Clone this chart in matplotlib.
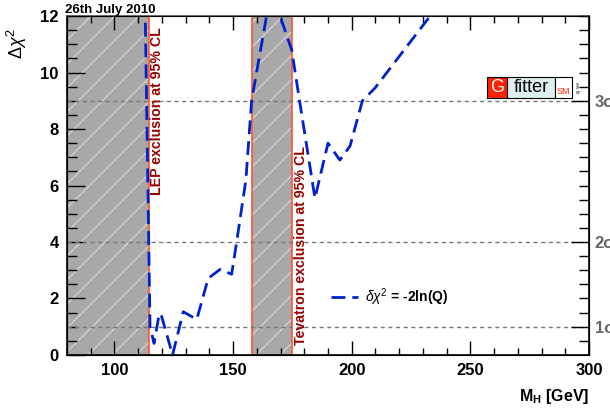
import matplotlib.pyplot as plt
import matplotlib.patches as mpatches
import numpy as np

plt.rcParams['font.family'] = ['Liberation Sans', 'DejaVu Sans']
plt.rcParams['mathtext.fontset'] = 'custom'
plt.rcParams['mathtext.rm'] = 'Liberation Sans'
plt.rcParams['mathtext.it'] = 'Liberation Sans:italic'
plt.rcParams['mathtext.bf'] = 'Liberation Sans:bold'

# Delta chi^2 scan vs Higgs mass
mh = [112.9, 115.0, 116.7, 118.9, 119.9, 124.5, 129.0, 134.7, 139.5, 144.5,
      149.4, 151.5, 155.4, 157.8, 163.9, 166.0, 169.8, 174.7, 178.2, 184.5,
      190.0, 195.0, 199.3, 204.5, 209.8, 233.5]
dchi2 = [12.5, 1.0, 0.41, 1.47, 1.36, 0.0, 1.53, 1.26, 2.71, 3.03,
         2.86, 4.0, 6.2, 9.0, 11.9, 13.0, 12.0, 10.8, 8.9, 5.55,
         7.5, 6.9, 7.4, 9.0, 9.45, 12.05]

lep_band = (80, 114.4)
tev_band = (158, 175)
sigma_levels = [1, 4, 9]
sigma_labels = ['1σ', '2σ', '3σ']

BAND_GRAY = '#A8A8A8'
EDGE_RED = '#FF5533'
TEXT_RED = '#990000'
CURVE_BLUE = '#0022CC'

fig = plt.figure(figsize=(6.1, 4.15), dpi=100)
ax = fig.add_axes([0.1098, 0.1446, 0.8558, 0.8168])
ax.set_xlim(80, 300)
ax.set_ylim(0, 12)

W_PX, H_PX = 522.0, 339.0
for lo, hi in [lep_band, tev_band]:
    band = ax.axvspan(lo, hi, facecolor=BAND_GRAY, edgecolor='none', zorder=1)
    # sparse white diagonal hatch, clipped to the band
    for c in np.arange(-H_PX, W_PX, 24):
        ln, = ax.plot([c / W_PX, (c + H_PX) / W_PX], [0, 1], transform=ax.transAxes,
                      color='white', lw=0.7, alpha=0.65, zorder=1.5)
        ln.set_clip_path(band)
    if lo > 80:
        ax.axvline(lo, color=EDGE_RED, lw=1.2, zorder=2)
    ax.axvline(hi, color=EDGE_RED, lw=1.2, zorder=2)

for lev in sigma_levels:
    ax.axhline(lev, color='#777777', lw=1, dashes=(3, 2.5), zorder=2)

ax.plot(mh, dchi2, color=CURVE_BLUE, lw=2, dashes=(5, 2.5), zorder=3,
        label=r'$\delta\chi^2$ = -2ln(Q)')

ax.text(115.0, 11.6, 'LEP exclusion at 95% CL', rotation=90, ha='left', va='top',
        color=TEXT_RED, fontsize=10.2, fontweight='bold', zorder=4)
ax.text(175.6, 0.35, 'Tevatron exclusion at 95% CL', rotation=90, ha='left', va='bottom',
        color=TEXT_RED, fontsize=10.2, fontweight='bold', zorder=4)

leg = ax.legend(loc='center left', bbox_to_anchor=(0.505, 0.171), frameon=False,
                borderpad=0, borderaxespad=0, handlelength=2.0, handletextpad=0.5,
                prop={'weight': 'bold', 'size': 10})

# ticks
ax.set_xticks(np.arange(100, 301, 50))
ax.set_xticks(np.arange(80, 301, 10), minor=True)
ax.set_yticks(np.arange(0, 13, 2))
ax.set_yticks(np.arange(0, 12.01, 0.5), minor=True)
ax.tick_params(which='both', direction='in', top=True, right=False, width=1)
ax.tick_params(which='major', length=10)
ax.tick_params(which='minor', length=5)
ax.tick_params(axis='y', which='major', length=13)
ax.tick_params(axis='y', which='minor', length=7)
ax.tick_params(axis='both', which='major', labelsize=12, pad=6)
for lab in ax.get_xticklabels() + ax.get_yticklabels():
    lab.set_fontweight('bold')

ax2 = ax.twinx()
ax2.set_ylim(0, 12)
ax2.set_yticks(sigma_levels)
ax2.set_yticklabels(sigma_labels)
ax2.set_yticks(np.arange(0.5, 12.01, 0.5), minor=True)
ax2.tick_params(which='both', direction='in', width=1, colors='black',
                labelcolor='#666666', labelsize=12, pad=4)
ax2.tick_params(which='major', length=13)
ax2.tick_params(which='minor', length=7)
for lab in ax2.get_yticklabels():
    lab.set_fontweight('bold')

for sp in list(ax.spines.values()):
    sp.set_linewidth(1.2)
ax.spines['top'].set_color('#555555')

ax.set_ylabel(r'$\Delta\chi^2$', fontsize=13, rotation=90, loc='top')
ax.yaxis.set_label_coords(-0.072, 0.965)
ax.set_xlabel(r'$\mathbf{M_H}$ [GeV]', fontsize=11.5, fontweight='bold', loc='right')
ax.xaxis.set_label_coords(1.0, -0.095)

fig.text(0.1066, 0.962, '26th July 2010', fontsize=9.5, fontweight='bold',
         va='bottom', ha='left')

# Gfitter logo
y0, h = 0.758, 0.062
ax.add_patch(mpatches.Rectangle((0.8046, y0), 0.0383, h, transform=ax.transAxes,
                                facecolor='#FF2200', edgecolor='black', lw=0.8, zorder=5))
ax.add_patch(mpatches.Rectangle((0.8429, y0), 0.0920, h, transform=ax.transAxes,
                                facecolor='#DCEEEE', edgecolor='black', lw=0.8, zorder=5))
ax.add_patch(mpatches.Rectangle((0.9349, y0), 0.0326, h, transform=ax.transAxes,
                                facecolor='white', edgecolor='black', lw=0.8, zorder=5))
ax.text(0.8237, y0 + h / 2, 'G', transform=ax.transAxes, ha='center', va='center',
        color='white', fontsize=13, zorder=6)
ax.text(0.8889, y0 + h / 2, 'fitter', transform=ax.transAxes, ha='center', va='center',
        color='black', fontsize=13, zorder=6)
ax.text(0.9512, y0 + 0.018, 'SM', transform=ax.transAxes, ha='center', va='center',
        color='#FF2200', fontsize=6.5, zorder=6)
ax.text(0.972, y0 + h / 2, 'ew fit', transform=ax.transAxes, ha='left', va='center',
        rotation=-90, fontsize=3.5, color='#333333', zorder=6)

fig.savefig('out.png', dpi=100)
